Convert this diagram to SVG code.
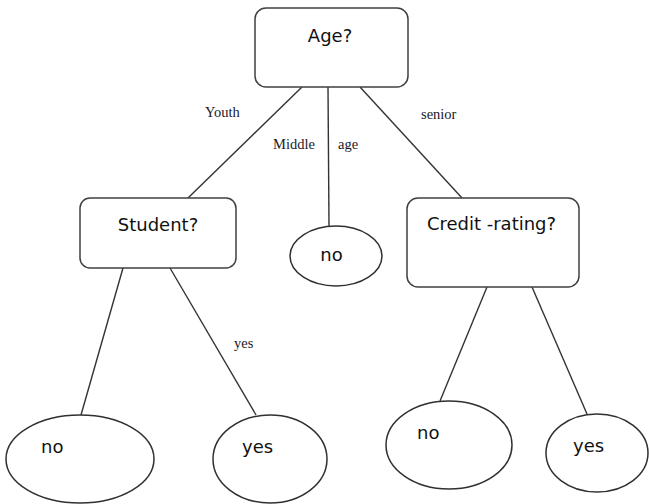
<svg xmlns="http://www.w3.org/2000/svg" width="649" height="504" viewBox="0 0 649 504">
<style>
.box{fill:#fff;stroke:#404040;stroke-width:1.5}
.ell{fill:#fff;stroke:#303030;stroke-width:1.5}
.edge{stroke:#333;stroke-width:1.4;fill:none}
.t{font-family:"DejaVu Sans",Verdana,sans-serif;font-size:18px;fill:#111}
.c{text-anchor:middle}
.lbl{font-family:"Liberation Serif","Times New Roman",serif;font-size:14.5px;fill:#1a1a2a}
</style>
<rect width="649" height="504" fill="#fff"/>
<g id="connectors">
<line class="edge" x1="302" y1="87" x2="188" y2="198"/>
<line class="edge" x1="328" y1="87" x2="329" y2="226"/>
<line class="edge" x1="360" y1="87" x2="462" y2="198"/>
<line class="edge" x1="123" y1="268" x2="81" y2="415"/>
<line class="edge" x1="170" y1="268" x2="256" y2="415"/>
<line class="edge" x1="487" y1="287" x2="440" y2="401"/>
<line class="edge" x1="532" y1="287" x2="587" y2="414"/>
<text class="lbl" x="205" y="117">Youth</text>
<text class="lbl" x="273" y="149">Middle</text>
<text class="lbl" x="338" y="149">age</text>
<text class="lbl" x="421" y="119">senior</text>
<text class="lbl" x="234" y="348">yes</text>
</g>
<g id="age">
<rect class="box" x="255" y="8" width="153" height="79" rx="11"/>
<text class="t c" x="330" y="42">Age?</text>
</g>
<g id="student">
<rect class="box" x="80" y="198" width="156" height="70" rx="10"/>
<text class="t c" x="158" y="231">Student?</text>
</g>
<g id="mid-no">
<ellipse class="ell" cx="336" cy="256" rx="46" ry="30"/>
<text class="t c" x="331.5" y="261">no</text>
</g>
<g id="credit">
<rect class="box" x="407" y="198" width="172" height="89" rx="11"/>
<text class="t c" x="491.5" y="230">Credit -rating?</text>
</g>
<g id="student-no">
<ellipse class="ell" cx="80" cy="459" rx="74" ry="44"/>
<text class="t" x="41" y="453">no</text>
</g>
<g id="student-yes">
<ellipse class="ell" cx="270" cy="459" rx="57" ry="44"/>
<text class="t" x="242" y="453">yes</text>
</g>
<g id="credit-no">
<ellipse class="ell" cx="449" cy="445" rx="63" ry="44"/>
<text class="t" x="417" y="439">no</text>
</g>
<g id="credit-yes">
<ellipse class="ell" cx="597" cy="453" rx="51" ry="39"/>
<text class="t" x="573" y="452">yes</text>
</g>
</svg>
